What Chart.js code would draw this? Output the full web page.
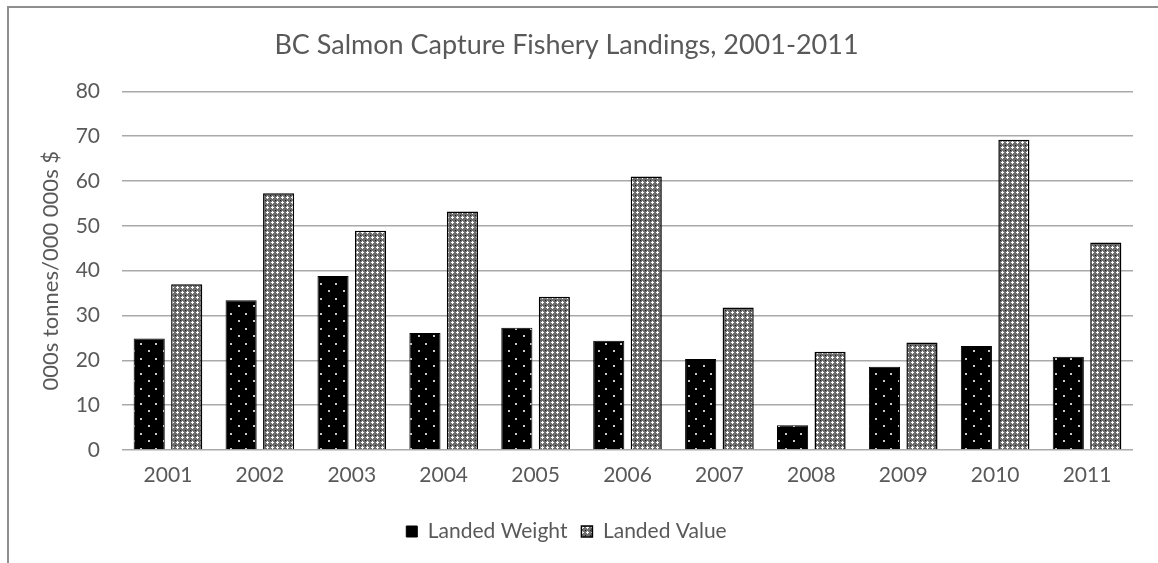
<!DOCTYPE html>
<html>
<head>
<meta charset="utf-8">
<title>BC Salmon Capture Fishery Landings</title>
<script src="https://cdn.jsdelivr.net/npm/chart.js@4.4.0/dist/chart.umd.min.js"></script>
<style>
  html, body { margin: 0; padding: 0; background: #fff; }
  #wrap { position: relative; width: 1158px; height: 563px; overflow: hidden; }
  #frame { position: absolute; left: 7px; top: 6px; width: 1300px; height: 700px; border-left: 2px solid #8f8f8f; border-top: 2px solid #8f8f8f; }
  #chart { position: absolute; left: 0; top: 0; }
</style>
</head>
<body>
<div id="wrap">
  <div id="frame"></div>
  <canvas id="chart" width="1158" height="563"></canvas>
</div>
<script>
// Landings by year (000s tonnes and 000 000s $)
const years = ['2001', '2002', '2003', '2004', '2005', '2006', '2007', '2008', '2009', '2010', '2011'];
const landedWeight = [24.9, 33.4, 38.8, 26.1, 27.3, 24.4, 20.3, 5.5, 18.6, 23.2, 20.8];
const landedValue = [37.0, 57.3, 48.9, 53.2, 34.2, 61.0, 31.8, 21.9, 24.0, 69.2, 46.3];
const yMin = 0;
const yMax = 80;
const yStep = 10;

const FONT = 'Lato, "Open Sans", sans-serif';
const TEXT = '#595959';

// black fill with a staggered grid of light dots
function dotPattern() {
  const c = document.createElement('canvas');
  c.width = 15; c.height = 15;
  const g = c.getContext('2d');
  g.fillStyle = '#000';
  g.fillRect(0, 0, 15, 15);
  g.fillStyle = '#c8c8c8';
  g.fillRect(5, 13, 2, 2);
  g.fillRect(13, 5, 2, 2);
  return g.createPattern(c, 'repeat');
}

// grey lattice with small white crosses
function crossPattern() {
  const c = document.createElement('canvas');
  c.width = 5; c.height = 5;
  const g = c.getContext('2d');
  g.fillStyle = '#6e6e6e';
  g.fillRect(0, 0, 5, 5);
  g.fillStyle = '#ffffff';
  g.fillRect(2, 1, 1, 3);
  g.fillRect(1, 2, 3, 1);
  g.fillStyle = '#1a1a1a';
  g.fillRect(0, 0, 1, 1);
  return g.createPattern(c, 'repeat');
}

const ctx = document.getElementById('chart');
new Chart(ctx, {
  type: 'bar',
  data: {
    labels: years,
    datasets: [
      {
        label: 'Landed Weight',
        data: landedWeight,
        backgroundColor: dotPattern(),
        borderColor: '#000',
        borderWidth: 1,
      },
      {
        label: 'Landed Value',
        data: landedValue,
        backgroundColor: crossPattern(),
        borderColor: '#000',
        borderWidth: 1.5,
      },
    ],
  },
  options: {
    responsive: false,
    animation: false,
    layout: { padding: { left: 0, right: 25, top: 0, bottom: 11 } },
    datasets: {
      bar: { categoryPercentage: 0.816, barPercentage: 0.83 },
    },
    plugins: {
      title: {
        display: true,
        text: 'BC Salmon Capture Fishery Landings, 2001-2011',
        color: TEXT,
        font: { family: FONT, size: 27, weight: 'normal' },
        padding: { top: 29, bottom: 30 },
      },
      legend: {
        position: 'bottom',
        labels: {
          color: TEXT,
          font: { family: FONT, size: 21 },
          boxWidth: 11,
          boxHeight: 11,
          padding: 14,
        },
      },
      tooltip: { enabled: false },
    },
    scales: {
      x: {
        grid: { display: false },
        border: { display: false },
        ticks: { color: TEXT, font: { family: FONT, size: 21 }, padding: 5, maxRotation: 0 },
        afterFit(scale) { scale.height = 57; },
      },
      y: {
        min: yMin,
        max: yMax,
        border: { display: false },
        grid: { color: '#a9a9a9', lineWidth: 1.6, drawTicks: false },
        ticks: { stepSize: yStep, color: TEXT, font: { family: FONT, size: 21 }, padding: 22 },
        title: {
          display: true,
          text: '000s tonnes/000 000s $',
          color: TEXT,
          font: { family: FONT, size: 22, weight: 'normal' },
          padding: { top: 38, bottom: 0 },
        },
        afterFit(scale) { scale.width = 122; },
      },
    },
  },
});
</script>
</body>
</html>
